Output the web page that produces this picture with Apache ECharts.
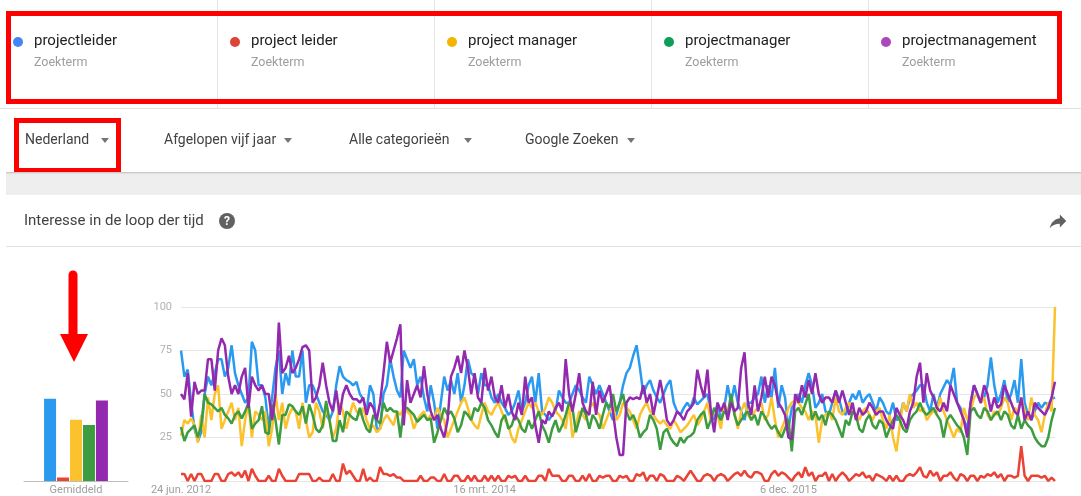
<!DOCTYPE html>
<html lang="nl">
<head>
<meta charset="UTF-8">
<title>Interesse in de loop der tijd</title>
<script src="https://cdn.jsdelivr.net/npm/echarts@6/dist/echarts.min.js"></script>
<style>
  body { margin: 0; width: 1081px; height: 496px; overflow: hidden; position: relative;
         background: #fff; font-family: Roboto, Arial, sans-serif; }
  #chart { position: absolute; left: 0; top: 0; width: 1081px; height: 496px; }
  .abs { position: absolute; }
  .term { position: absolute; top: 0; width: 217px; height: 108px; border-right: 1px solid #e6e6e6; box-sizing: border-box; }
  .dot { position: absolute; left: 12px; top: 37px; width: 10px; height: 10px; border-radius: 50%; }
  .name { position: absolute; left: 33px; top: 31px; font-size: 15px; color: #212121; white-space: nowrap; }
  .sub { position: absolute; left: 33px; top: 54px; font-size: 12.5px; color: #9e9e9e; }
  .filter { position: absolute; top: 131px; font-size: 14px; color: #424242; white-space: nowrap; }
  .caret { position: absolute; top: 138px; width: 0; height: 0; border-left: 4px solid transparent;
           border-right: 4px solid transparent; border-top: 5px solid #757575; }
  .redbox { position: absolute; border: 5px solid #ff0000; box-sizing: border-box; }
</style>
</head>
<body>
<div id="chart"></div>

<!-- zoektermen -->
<div id="terms"></div>
<div class="abs" style="left:0;top:108px;width:1081px;height:1px;background:#e0e0e0"></div>
<div class="redbox" style="left:6px;top:11px;width:1056px;height:93px"></div>

<!-- filters -->
<div class="filter" style="left:25px">Nederland</div><div class="caret" style="left:101px"></div>
<div class="filter" style="left:164px">Afgelopen vijf jaar</div><div class="caret" style="left:284px"></div>
<div class="filter" style="left:349px">Alle categorieën</div><div class="caret" style="left:464px"></div>
<div class="filter" style="left:525px">Google Zoeken</div><div class="caret" style="left:627px"></div>
<div class="redbox" style="left:14px;top:118px;width:107px;height:55px"></div>
<div class="abs" style="left:6px;top:172px;width:1075px;height:23px;background:#eeeeee;box-shadow:inset 0 2px 2px -1px #bdbdbd"></div>

<!-- kaart titel -->
<div class="abs" style="left:24px;top:211px;font-size:15px;color:#424242">Interesse in de loop der tijd</div>
<div class="abs" style="left:219px;top:213px;width:16px;height:16px;border-radius:50%;background:#616161;color:#fff;font-size:12px;font-weight:bold;text-align:center;line-height:16px">?</div>
<svg class="abs" style="left:1047px;top:210px" width="22" height="22" viewBox="0 0 24 24">
  <path d="M14 9V5l7 7-7 7v-4.1c-5 0-8.5 1.6-11 5.1 1-5 4-10 11-11z" fill="#616161"/>
</svg>
<div class="abs" style="left:6px;top:246px;width:1075px;height:1px;background:#e0e0e0"></div>

<!-- rode pijl -->
<svg class="abs" style="left:0;top:0;pointer-events:none" width="1081" height="496">
  <line x1="73" y1="275" x2="73" y2="338" stroke="#ff0000" stroke-width="9" stroke-linecap="round"/>
  <polygon points="60,334 88,334 74,362" fill="#ff0000"/>
</svg>

<script>
// zoektermen en kleuren
var terms = ['projectleider', 'project leider', 'project manager', 'projectmanager', 'projectmanagement'];
var dotColors = ['#4285f4', '#db4437', '#f4b400', '#0f9d58', '#ab47bc'];
var lineColors = ['#2a9af0', '#ea4335', '#fcc22d', '#3d9c3f', '#9329ae'];

// gemiddelde per zoekterm
var averages = [47, 2, 35, 32, 46];

// x-as labels (week index -> label)
var tickWeeks = [0, 90, 180];
var tickLabels = ['24 jun. 2012', '16 mrt. 2014', '6 dec. 2015'];

// wekelijkse waarden, 260 weken
var projectleider = [
  75,60,64,45,30,23,28,50,60,55,62,70,70,60,65,78,62,55,50,45,48,80,75,55,55,48,30,48,65,75,50,62,55,75,60,60,75,45,55,55,50,45,40,38,35,40,55,66,60,58,57,55,
  57,50,47,40,55,50,30,30,50,55,70,60,52,48,75,70,65,70,55,60,48,40,55,45,30,45,60,52,58,50,62,45,55,70,62,60,50,62,55,55,48,45,50,45,42,38,40,45,52,40,45,55,
  60,45,62,40,38,35,38,40,52,48,45,45,50,55,52,48,45,60,55,50,55,50,45,40,35,38,45,55,62,65,72,78,65,50,55,58,52,48,45,50,55,58,45,40,38,42,45,42,48,44,46,48,
  50,40,35,45,35,42,55,45,55,45,40,35,45,45,48,50,60,45,55,48,65,42,55,48,30,42,45,50,45,55,62,55,42,45,50,40,38,45,52,47,40,38,45,50,47,52,45,48,50,45,40,48,
  45,40,38,45,35,36,45,40,48,50,52,55,55,45,40,50,42,50,54,58,55,65,45,42,35,30,45,55,50,45,48,55,71,55,45,50,58,45,50,58,45,70,45,38,35,40,45,42,45,44,47,48
];
var projectLeider = [
  4,4,0,4,0,4,4,0,0,0,4,4,0,0,4,5,3,5,2,6,0,7,3,0,0,0,3,0,0,7,3,0,0,0,0,4,4,4,4,0,0,2,0,0,0,4,0,0,10,4,6,3,
  0,0,7,0,2,0,0,8,4,4,3,4,2,2,0,0,0,0,0,3,0,0,2,2,0,0,4,0,0,3,3,0,0,3,0,3,0,0,3,0,3,0,3,0,0,3,2,3,0,0,3,0,
  0,0,3,3,0,7,3,3,3,0,0,3,3,0,0,3,0,4,0,0,3,2,3,3,0,0,3,2,3,0,0,4,3,5,0,3,3,0,4,3,0,0,0,3,2,0,3,6,3,0,0,3,
  4,3,0,3,4,3,0,2,4,5,3,6,3,2,5,5,4,0,0,4,6,3,5,4,2,0,3,5,2,8,3,5,0,3,3,5,0,4,0,3,5,3,0,2,4,3,5,2,3,0,4,3,
  2,0,3,0,3,0,0,3,4,3,5,8,3,2,6,3,5,0,3,3,5,2,0,4,3,0,3,3,0,3,2,4,3,5,2,4,0,3,3,2,3,20,3,0,3,3,3,2,3,0,2,0
];
var projectManager = [
  26,35,33,36,32,22,38,25,48,35,50,55,30,35,40,45,35,42,20,35,45,25,40,38,35,40,20,30,50,35,45,30,38,42,40,30,45,35,25,28,45,40,30,42,35,25,30,45,40,30,38,45,
  40,38,42,35,30,32,28,30,35,38,35,32,40,38,42,40,38,30,35,38,40,35,38,35,42,38,35,25,30,35,40,45,48,42,35,32,30,38,45,40,38,42,45,40,35,32,25,22,30,35,40,45,
  42,45,40,38,42,48,45,40,38,35,30,45,25,32,40,38,35,42,45,40,38,30,35,40,42,35,38,45,42,40,35,30,38,42,45,40,38,35,33,35,32,30,35,32,28,30,32,35,38,32,35,40,
  45,35,40,38,30,45,38,45,40,30,40,45,38,35,40,42,45,35,38,48,35,25,30,35,42,45,46,45,42,40,35,40,38,22,35,38,40,35,48,40,38,42,45,40,38,35,40,42,38,35,40,42,
  35,30,38,25,17,32,45,40,50,42,45,40,42,35,38,40,40,48,40,35,30,25,30,28,42,35,40,48,50,45,48,38,35,40,38,42,48,45,35,42,40,48,40,35,48,38,35,28,38,45,40,100
];
var projectmanager = [
  31,23,28,30,32,25,32,50,45,44,42,40,42,38,36,33,38,40,36,40,45,30,33,35,43,28,27,44,35,21,38,38,44,43,40,38,43,33,44,38,30,28,32,46,35,23,23,35,28,40,38,36,
  35,42,35,30,28,38,35,33,45,40,42,40,40,25,42,42,40,38,34,36,38,35,36,22,28,35,42,38,40,36,28,32,40,38,35,42,40,45,42,35,32,28,25,35,38,30,32,38,35,30,28,35,
  30,35,40,32,28,22,30,35,28,32,38,45,42,28,35,42,38,30,38,35,30,38,45,42,50,40,45,50,40,35,38,33,25,28,30,38,35,30,18,28,30,25,22,20,25,22,25,26,28,35,38,40,
  30,35,42,38,35,40,38,50,38,32,35,38,40,35,38,32,40,37,33,30,32,28,25,30,35,17,40,42,38,44,50,35,40,35,38,32,40,38,35,30,25,35,32,40,38,30,28,35,38,32,30,35,
  33,25,30,35,38,35,30,28,35,38,40,45,40,38,40,42,38,35,25,35,38,35,32,30,25,15,40,42,38,36,42,40,35,38,40,35,40,38,32,30,38,30,35,32,30,25,22,20,20,25,35,42
];
var projectmanagement = [
  50,47,62,37,57,50,52,52,70,70,52,75,82,78,60,50,55,50,60,65,42,60,55,52,55,50,50,35,50,91,62,65,72,62,65,70,77,78,75,45,48,55,68,55,45,40,52,38,50,55,50,47,
  47,45,48,38,45,42,35,45,62,80,68,75,82,90,32,58,45,50,55,48,66,50,40,35,38,30,25,35,60,65,72,62,75,65,50,62,48,45,65,52,60,48,45,55,42,50,40,35,45,38,60,45,
  48,32,22,35,33,40,37,42,45,40,70,50,40,50,62,45,40,38,57,38,52,45,50,55,40,25,15,15,45,48,47,48,47,55,45,50,38,48,58,48,35,32,35,40,38,35,40,42,45,64,55,48,
  64,40,28,45,40,45,35,45,40,42,65,74,45,38,55,40,48,60,48,60,55,45,42,38,25,24,50,45,55,48,58,50,62,50,45,48,48,45,52,45,52,45,38,45,35,42,38,40,45,42,38,40,
  40,35,32,30,42,38,35,30,40,45,60,68,45,62,52,48,42,40,45,40,55,50,45,40,35,25,45,55,50,45,55,50,40,48,42,44,55,50,45,40,38,48,35,40,35,45,42,40,38,42,48,57
];

var weekly = [projectleider, projectLeider, projectManager, projectmanager, projectmanagement];

// zoektermen kopjes bouwen
var termsEl = document.getElementById('terms');
terms.forEach(function (t, i) {
  var d = document.createElement('div');
  d.className = 'term';
  d.style.left = (i * 217 + 1) + 'px';
  if (i == terms.length - 1) d.style.borderRight = 'none';
  d.innerHTML = '<div class="dot" style="background:' + dotColors[i] + '"></div>' +
    '<div class="name">' + t + '</div><div class="sub">Zoekterm</div>';
  termsEl.appendChild(d);
});

var weeks = projectleider.map(function (v, i) { return String(i); });

var series = [];
terms.forEach(function (t, i) {
  series.push({
    type: 'bar', name: t, xAxisIndex: 0, yAxisIndex: 0,
    data: [averages[i]], barWidth: 12, barGap: '8%',
    itemStyle: { color: lineColors[i] }
  });
});
terms.forEach(function (t, i) {
  series.push({
    type: 'line', name: t, xAxisIndex: 1, yAxisIndex: 1,
    data: weekly[i], showSymbol: false,
    lineStyle: { width: 2.5, color: lineColors[i] },
    itemStyle: { color: lineColors[i] }
  });
});

var option = {
  animation: false,
  textStyle: { fontFamily: 'Roboto' },
  grid: [
    { left: 24, width: 104, top: 306, height: 175 },
    { left: 181, right: 26, top: 307, height: 175 }
  ],
  xAxis: [
    {
      gridIndex: 0, type: 'category', data: ['Gemiddeld'],
      axisLine: { lineStyle: { color: '#bdbdbd' } },
      axisTick: { show: false },
      axisLabel: { color: '#9e9e9e', fontSize: 11, margin: 4 }
    },
    {
      gridIndex: 1, type: 'category', boundaryGap: false, data: weeks,
      axisLine: { show: false }, axisTick: { show: false },
      axisLabel: {
        color: '#9e9e9e', fontSize: 11, margin: 4,
        interval: function (i) { return tickWeeks.indexOf(i) >= 0; },
        formatter: function (v) {
          var k = tickWeeks.indexOf(Number(v));
          return k >= 0 ? tickLabels[k] : '';
        }
      }
    }
  ],
  yAxis: [
    { gridIndex: 0, type: 'value', min: 0, max: 100, show: false },
    {
      gridIndex: 1, type: 'value', min: 0, max: 100, interval: 25,
      axisLine: { show: false }, axisTick: { show: false },
      axisLabel: {
        color: '#b0b0b0', fontSize: 11, margin: 9,
        formatter: function (v) { return v === 0 ? '' : v; }
      },
      splitLine: { lineStyle: { color: '#e6e6e6', width: 1 } }
    }
  ],
  series: series
};

var myChart = echarts.init(document.getElementById('chart'));
myChart.setOption(option);
</script>
</body>
</html>
